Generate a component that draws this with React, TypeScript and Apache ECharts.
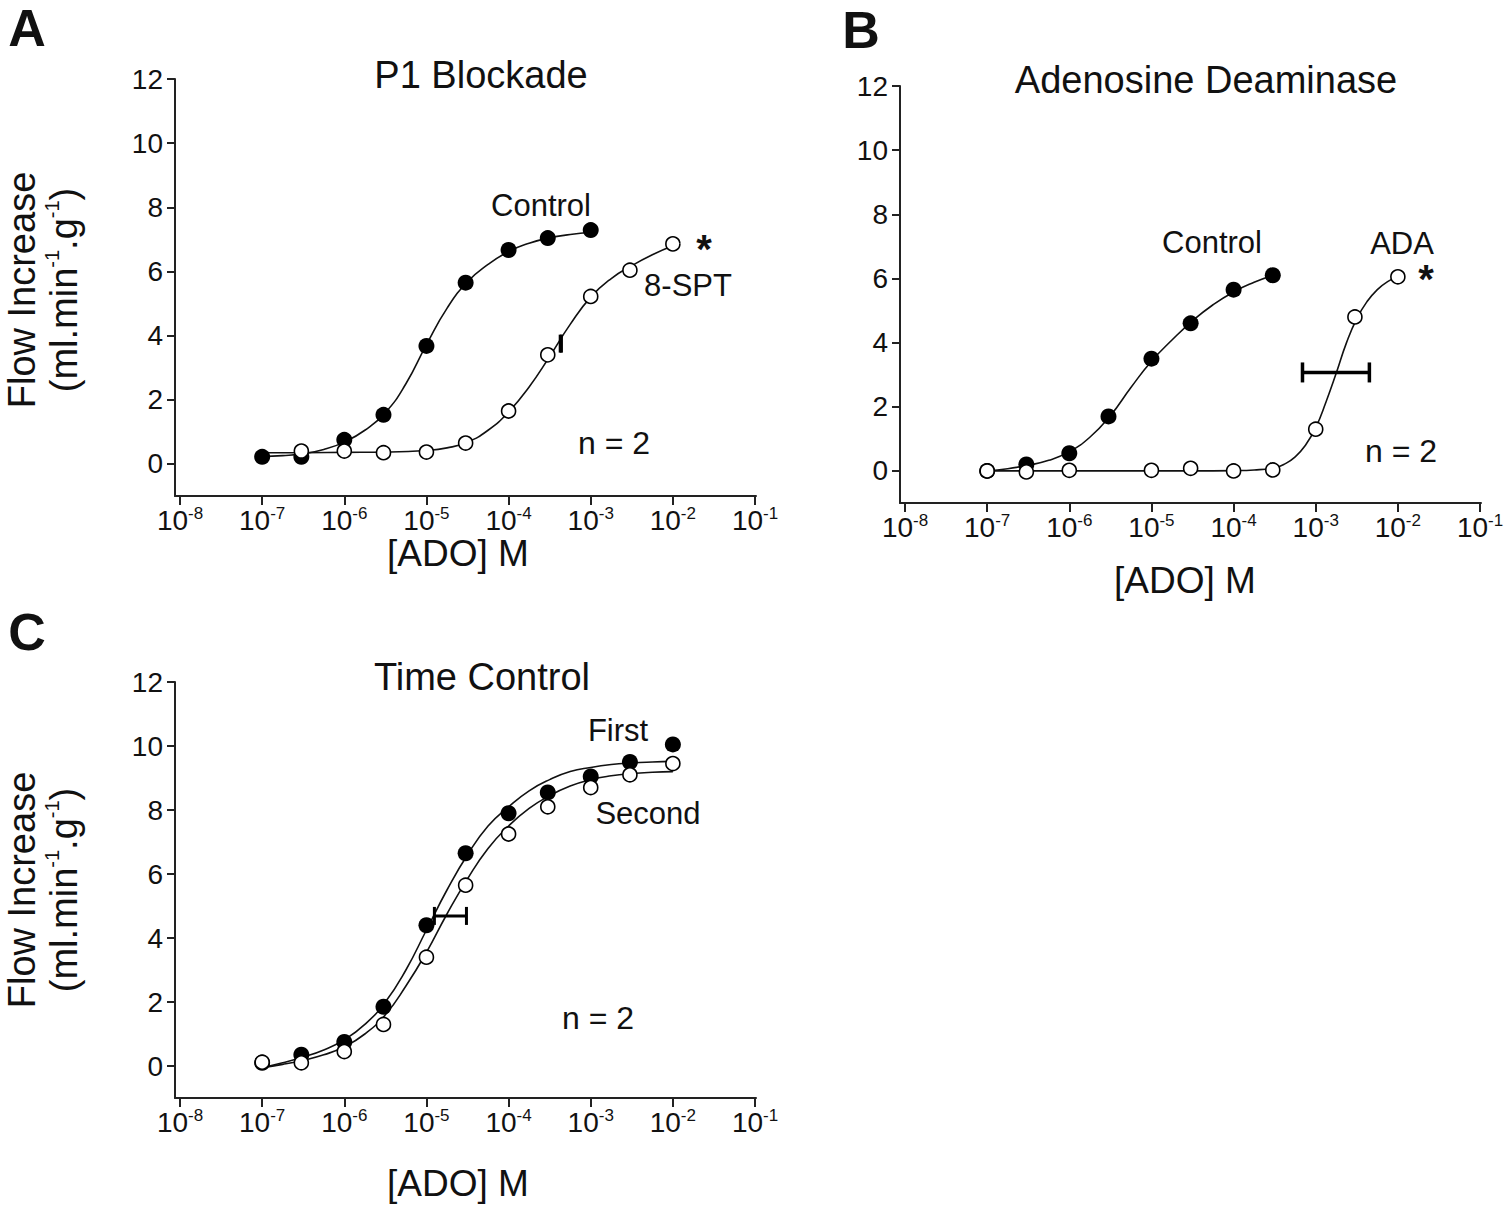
import React, { useEffect, useRef } from "react";
import * as echarts from "echarts";

// ---------- DATA ----------
const xTicks = [1e-8, 1e-7, 1e-6, 1e-5, 1e-4, 1e-3, 1e-2, 1e-1];
const yTicks = [0, 2, 4, 6, 8, 10, 12];

// Panel A: P1 Blockade (measured points)
const aCtrlConc = [1e-7, 3e-7, 1e-6, 3e-6, 1e-5, 3e-5, 1e-4, 3e-4, 1e-3];
const aCtrlVal = [0.22, 0.22, 0.75, 1.53, 3.68, 5.65, 6.67, 7.04, 7.29];
const aSptConc = [3e-7, 1e-6, 3e-6, 1e-5, 3e-5, 1e-4, 3e-4, 1e-3, 3e-3, 1e-2];
const aSptVal = [0.4, 0.4, 0.35, 0.37, 0.65, 1.65, 3.4, 5.22, 6.04, 6.86];
// fitted curves at quarter-decade positions (log10 of concentration)
const aCtrlFitExp = [-7, -6.75, -6.5, -6.25, -6, -5.75, -5.5, -5.25, -5, -4.75, -4.5, -4.25, -4, -3.75, -3.5, -3.25, -3];
const aCtrlFitVal = [0.23, 0.26, 0.32, 0.45, 0.68, 1.05, 1.6, 2.5, 3.72, 4.85, 5.68, 6.22, 6.62, 6.88, 7.05, 7.15, 7.22];
const aSptFitExp = [-7, -6.5, -6, -5.5, -5, -4.75, -4.5, -4.25, -4, -3.75, -3.5, -3.25, -3, -2.75, -2.5, -2.25, -2];
const aSptFitVal = [0.35, 0.35, 0.36, 0.37, 0.42, 0.5, 0.68, 1.05, 1.62, 2.4, 3.35, 4.35, 5.2, 5.78, 6.18, 6.52, 6.8];
const aErr = [[4.25e-4, 3.75, 4.4e-4]]; // [xLow, y, xHigh]

// Panel B: Adenosine Deaminase
const bCtrlConc = [1e-7, 3e-7, 1e-6, 3e-6, 1e-5, 3e-5, 1e-4, 3e-4];
const bCtrlVal = [0.0, 0.2, 0.55, 1.7, 3.5, 4.6, 5.65, 6.1];
const bAdaConc = [1e-7, 3e-7, 1e-6, 1e-5, 3e-5, 1e-4, 3e-4, 1e-3, 3e-3, 1e-2];
const bAdaVal = [0.0, -0.03, 0.02, 0.02, 0.08, 0.0, 0.03, 1.3, 4.8, 6.05];
const bCtrlFitExp = [-7, -6.75, -6.5, -6.25, -6, -5.75, -5.5, -5.25, -5, -4.75, -4.5, -4.25, -4, -3.75, -3.52];
const bCtrlFitVal = [0.0, 0.07, 0.18, 0.33, 0.6, 1.05, 1.72, 2.6, 3.42, 4.08, 4.68, 5.18, 5.58, 5.88, 6.1];
const bAdaFitExp = [-7, -6.5, -6, -5.5, -5, -4.5, -4, -3.75, -3.5, -3.375, -3.25, -3.125, -3, -2.875, -2.75, -2.625, -2.5, -2.375, -2.25, -2.125, -2];
const bAdaFitVal = [0.0, 0.0, 0.0, 0.0, 0.0, 0.0, 0.01, 0.03, 0.1, 0.22, 0.44, 0.8, 1.35, 2.15, 3.05, 4.0, 4.75, 5.28, 5.65, 5.9, 6.05];
const bErr = [[6.9e-4, 3.07, 4.5e-3]];

// Panel C: Time Control
const cConc = [1e-7, 3e-7, 1e-6, 3e-6, 1e-5, 3e-5, 1e-4, 3e-4, 1e-3, 3e-3, 1e-2];
const cFirstVal = [0.1, 0.35, 0.75, 1.85, 4.4, 6.65, 7.9, 8.55, 9.05, 9.5, 10.05];
const cSecondVal = [0.12, 0.1, 0.45, 1.3, 3.4, 5.65, 7.25, 8.1, 8.7, 9.1, 9.45];
const cFitExp = [-7, -6.75, -6.5, -6.25, -6, -5.75, -5.5, -5.25, -5, -4.75, -4.5, -4.25, -4, -3.75, -3.5, -3.25, -3, -2.75, -2.5, -2.25, -2];
const cFirstFitVal = [-0.05, 0.1, 0.28, 0.5, 0.82, 1.3, 2.0, 3.0, 4.25, 5.5, 6.6, 7.5, 8.1, 8.6, 8.95, 9.2, 9.33, 9.42, 9.47, 9.5, 9.52];
const cSecondFitVal = [-0.05, 0.05, 0.18, 0.35, 0.6, 1.0, 1.6, 2.5, 3.55, 4.75, 5.85, 6.8, 7.5, 8.05, 8.45, 8.75, 8.95, 9.07, 9.14, 9.18, 9.2];
const cErr = [[1.25e-5, 4.69, 3.07e-5]];

// ---------- STYLE ----------
const FONT = '"Liberation Sans", Arial, Helvetica, sans-serif';
const INK = "#111";

const zip = (xs: number[], ys: number[]) => xs.map((x, i) => [x, ys[i]]);
const zipExp = (es: number[], ys: number[]) => es.map((e, i) => [Math.pow(10, e), ys[i]]);

function App() {
  const ref = useRef<HTMLDivElement>(null);

  useEffect(() => {
    if (!ref.current) return;
    const chart = echarts.init(ref.current, undefined, { renderer: "svg" });

    const grids = [
      { left: 175, top: 79, width: 581, height: 417 },
      { left: 900, top: 86, width: 581, height: 417 },
      { left: 175, top: 682, width: 581, height: 416 },
    ];

    const xAxis = grids.map((_, i) => ({
      type: "log",
      logBase: 10,
      gridIndex: i,
      min: Math.pow(10, -8.061),
      max: Math.pow(10, -0.988),
      axisLine: { onZero: false, lineStyle: { color: "#222", width: 2 } },
      axisTick: { customValues: xTicks, length: 9, lineStyle: { color: "#222", width: 2 } },
      minorTick: { show: false },
      splitLine: { show: false },
      axisLabel: {
        customValues: xTicks,
        margin: 9,
        color: INK,
        fontFamily: FONT,
        fontSize: 28,
        lineHeight: 30,
        formatter: (v: number) => `10{s|${Math.round(Math.log10(v))}}`,
        rich: {
          s: { fontSize: 17, lineHeight: 12, verticalAlign: "top", fontFamily: FONT, color: INK },
        },
      },
    }));

    const yAxis = grids.map((_, i) => ({
      type: "value",
      gridIndex: i,
      min: -1,
      max: 12,
      axisLine: { show: true, onZero: false, lineStyle: { color: "#222", width: 2 } },
      axisTick: { show: true, customValues: yTicks, length: 8, lineStyle: { color: "#222", width: 2 } },
      splitLine: { show: false },
      axisLabel: {
        customValues: yTicks,
        margin: 12,
        color: INK,
        fontFamily: FONT,
        fontSize: 28,
      },
    }));

    const curve = (idx: number, es: number[], ys: number[]) => ({
      type: "line",
      xAxisIndex: idx,
      yAxisIndex: idx,
      data: zipExp(es, ys),
      showSymbol: false,
      smooth: 0.5,
      lineStyle: { color: "#111", width: 1.6 },
      z: 2,
      silent: true,
    });
    const filled = (idx: number, xs: number[], ys: number[]) => ({
      type: "scatter",
      xAxisIndex: idx,
      yAxisIndex: idx,
      data: zip(xs, ys),
      symbol: "circle",
      symbolSize: 16,
      itemStyle: { color: "#000", borderColor: "#000", borderWidth: 0, opacity: 1 },
      z: 3,
    });
    const open = (idx: number, xs: number[], ys: number[]) => ({
      type: "scatter",
      xAxisIndex: idx,
      yAxisIndex: idx,
      data: zip(xs, ys),
      symbol: "circle",
      symbolSize: 14,
      itemStyle: { color: "#fff", borderColor: "#000", borderWidth: 1.6, opacity: 1 },
      z: 4,
    });
    const errBar = (idx: number, rows: number[][], cap: number, w: number) => ({
      type: "custom",
      xAxisIndex: idx,
      yAxisIndex: idx,
      data: rows,
      encode: { x: [0, 2], y: 1 },
      z: 5,
      renderItem: (_p: any, api: any) => {
        const a = api.coord([api.value(0), api.value(1)]);
        const b = api.coord([api.value(2), api.value(1)]);
        const st = { stroke: "#000", lineWidth: w };
        return {
          type: "group",
          children: [
            { type: "line", shape: { x1: a[0], y1: a[1], x2: b[0], y2: b[1] }, style: st },
            { type: "line", shape: { x1: a[0], y1: a[1] - cap / 2, x2: a[0], y2: a[1] + cap / 2 }, style: st },
            { type: "line", shape: { x1: b[0], y1: b[1] - cap / 2, x2: b[0], y2: b[1] + cap / 2 }, style: st },
          ],
        };
      },
    });

    const series = [
      curve(0, aCtrlFitExp, aCtrlFitVal),
      curve(0, aSptFitExp, aSptFitVal),
      filled(0, aCtrlConc, aCtrlVal),
      open(0, aSptConc, aSptVal),
      errBar(0, aErr, 18, 3),
      curve(1, bCtrlFitExp, bCtrlFitVal),
      curve(1, bAdaFitExp, bAdaFitVal),
      filled(1, bCtrlConc, bCtrlVal),
      open(1, bAdaConc, bAdaVal),
      errBar(1, bErr, 20, 3.5),
      curve(2, cFitExp, cFirstFitVal),
      curve(2, cFitExp, cSecondFitVal),
      filled(2, cConc, cFirstVal),
      open(2, cConc, cSecondVal),
      errBar(2, cErr, 18, 3),
    ];

    const txt = (text: string, x: number, y: number, fontSize: number, extra: any = {}) => ({
      type: "text",
      x,
      y,
      silent: true,
      style: {
        text,
        fontFamily: FONT,
        fontSize,
        fill: INK,
        align: "center",
        verticalAlign: "middle",
        ...extra,
      },
    });
    const supRich = {
      s: { fontSize: 20, lineHeight: 20, verticalAlign: "top", fontFamily: FONT, fill: INK },
    };
    const yTitle = (cy: number) => [
      { ...txt("Flow Increase", 22, cy, 38), rotation: Math.PI / 2 },
      {
        ...txt("(ml.min{s|-1}.g{s|-1})", 64, cy, 38, { rich: supRich, lineHeight: 44 }),
        rotation: Math.PI / 2,
      },
    ];
    const star = { fontWeight: "bold", lineHeight: 18 };

    const graphic = [
      txt("A", 27, 28, 52, { fontWeight: "bold", lineHeight: 46 }),
      txt("B", 861, 30, 52, { fontWeight: "bold", lineHeight: 46 }),
      txt("C", 27, 632, 52, { fontWeight: "bold", lineHeight: 46 }),
      txt("P1 Blockade", 481, 75, 38),
      txt("Adenosine Deaminase", 1206, 80, 38),
      txt("Time Control", 482, 677, 38),
      ...yTitle(290),
      ...yTitle(890),
      txt("[ADO] M", 458, 553, 37, { lineHeight: 36 }),
      txt("[ADO] M", 1185, 580, 37, { lineHeight: 36 }),
      txt("[ADO] M", 458, 1183, 37, { lineHeight: 36 }),
      txt("Control", 541, 205, 31),
      txt("8-SPT", 688, 285, 31, { lineHeight: 30 }),
      txt("*", 704, 249, 40, star),
      txt("n = 2", 614, 443, 32),
      txt("Control", 1212, 242, 31),
      txt("ADA", 1402, 243, 31, { lineHeight: 30 }),
      txt("*", 1426, 279, 40, star),
      txt("n = 2", 1401, 451, 32),
      txt("First", 618, 730, 31),
      txt("Second", 648, 813, 31),
      txt("n = 2", 598, 1018, 32),
    ];

    chart.setOption({
      animation: false,
      backgroundColor: "#fff",
      grid: grids.map((g) => ({ ...g, containLabel: false, outerBoundsMode: "none" })),
      xAxis,
      yAxis,
      series,
      graphic,
    });

    return () => chart.dispose();
  }, []);

  return (
    <div
      ref={ref}
      style={{ position: "fixed", left: 0, top: 0, width: 1511, height: 1211, background: "#fff" }}
    />
  );
}

export default App;
